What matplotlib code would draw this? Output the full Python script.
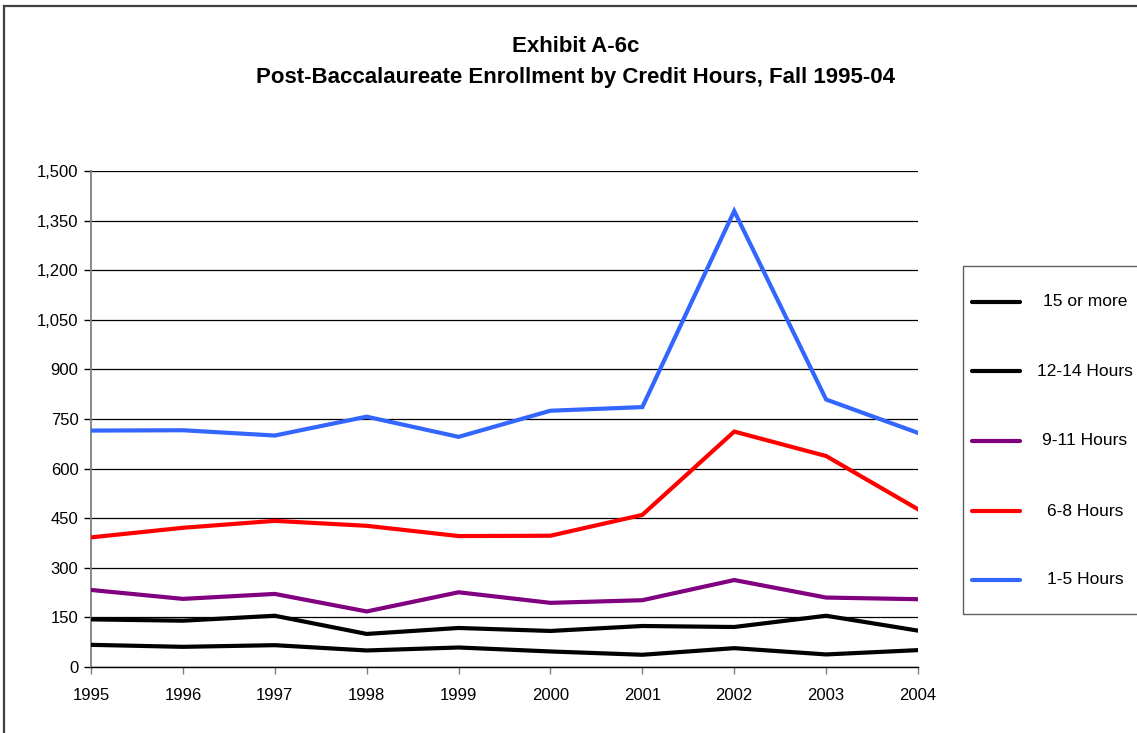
import matplotlib
matplotlib.use("Agg")
import matplotlib.pyplot as plt
from matplotlib.patches import Rectangle
from matplotlib.lines import Line2D
from matplotlib.ticker import FuncFormatter, FixedLocator

plt.rcParams['font.family'] = ['Liberation Sans', 'DejaVu Sans']

years = [1995, 1996, 1997, 1998, 1999, 2000, 2001, 2002, 2003, 2004]
hours_15_plus = [67, 61, 66, 50, 59, 47, 37, 57, 38, 51]
hours_12_14 = [144, 140, 155, 100, 118, 109, 124, 121, 155, 110]
hours_9_11 = [233, 206, 221, 168, 226, 194, 202, 263, 210, 205]
hours_6_8 = [392, 421, 442, 427, 396, 397, 460, 712, 638, 477]
hours_1_5 = [715, 716, 700, 757, 696, 775, 786, 1379, 809, 708]

series_labels = ["15 or more", "12-14 Hours", "9-11 Hours", "6-8 Hours", "1-5 Hours"]
series_values = [hours_15_plus, hours_12_14, hours_9_11, hours_6_8, hours_1_5]
series_colors = ["#000000", "#000000", "#800080", "#FF0000", "#3366FF"]
y_ticks = list(range(0, 1501, 150))

W, H = 1137, 733
fig = plt.figure(figsize=(W / 100, H / 100), dpi=100)
fig.patch.set_facecolor("white")

def fx(px):
    return px / W

def fy(py):
    return 1 - py / H

ax = fig.add_axes([fx(91), fy(667), fx(918) - fx(91), fy(171) - fy(667)])

for vals, col, lab in zip(series_values, series_colors, series_labels):
    ax.plot(years, vals, color=col, lw=3.0, solid_joinstyle="miter", label=lab, zorder=3)

ax.set_xlim(years[0], years[-1])
ax.set_ylim(0, 1500)
ax.yaxis.set_major_locator(FixedLocator(y_ticks))
ax.yaxis.set_major_formatter(FuncFormatter(lambda v, p: f"{int(v):,}"))
ax.set_xticks(years)
ax.set_xticklabels([str(y) for y in years])

ax.grid(axis="y", color="#000000", lw=0.9, zorder=1)
ax.set_axisbelow(True)
for s in ["top", "right"]:
    ax.spines[s].set_visible(False)
ax.spines["left"].set_color("#808080")
ax.spines["left"].set_linewidth(1.3)
ax.spines["bottom"].set_color("#000000")
ax.spines["bottom"].set_linewidth(1.0)
ax.tick_params(axis="y", length=5, width=1, color="#000000", pad=4, labelsize=12)
ax.tick_params(axis="x", length=5, width=1, color="#808080", pad=10, labelsize=12)

# Title
fig.text(fx(576), fy(47), "Exhibit A-6c", ha="center", va="center",
         fontsize=16, fontweight="bold")
fig.text(fx(575), fy(78), "Post-Baccalaureate Enrollment by Credit Hours, Fall 1995-04",
         ha="center", va="center", fontsize=16, fontweight="bold")

# Outer frame (cropped on right and bottom)
fig.patches.append(Rectangle((fx(4), fy(760)), fx(1160) - fx(4), fy(6) - fy(760),
                             transform=fig.transFigure, fill=False,
                             edgecolor="#404040", lw=1.6, zorder=0))

# Legend
fig.patches.append(Rectangle((fx(963), fy(614)), fx(1150) - fx(963), fy(266) - fy(614),
                             transform=fig.transFigure, fill=False,
                             edgecolor="#606060", lw=1.0, zorder=5))
entry_y = [302, 371, 441, 511, 580]
for yy, col, lab in zip(entry_y, series_colors, series_labels):
    fig.lines.append(Line2D([fx(972), fx(1020)], [fy(yy), fy(yy)], transform=fig.transFigure,
                            color=col, lw=3.0, solid_capstyle="round"))
    fig.text(fx(1085), fy(yy), lab, ha="center", va="center", fontsize=12.5)

fig.savefig("out.png", dpi=100, facecolor="white")
